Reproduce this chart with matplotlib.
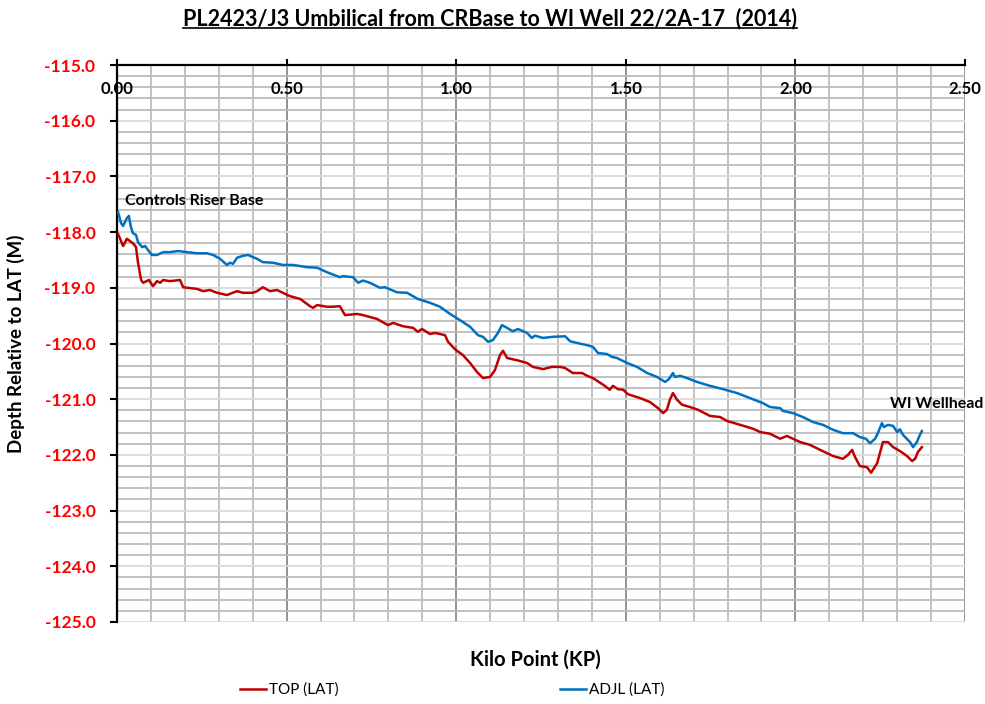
""" PL2423/J3 umbilical depth profile """

import matplotlib
matplotlib.use('Agg')
import matplotlib.pyplot as plt
import matplotlib.transforms as mtransforms
from matplotlib.lines import Line2D
from matplotlib.ticker import MultipleLocator, FormatStrFormatter

plt.rcParams['font.family'] = ['Lato', 'DejaVu Sans']

TITLE = 'PL2423/J3 Umbilical from CRBase to WI Well 22/2A-17  (2014)'

top_kp = [0.003, 0.018, 0.029, 0.038, 0.047, 0.056, 0.062, 0.071, 0.077, 0.094,
          0.106, 0.118, 0.127, 0.136, 0.156, 0.186, 0.195, 0.236, 0.254, 0.274,
          0.295, 0.324, 0.354, 0.371, 0.401, 0.413, 0.430, 0.451, 0.472, 0.489,
          0.510, 0.540, 0.569, 0.578, 0.590, 0.619, 0.637, 0.657, 0.672, 0.708,
          0.725, 0.767, 0.799, 0.814, 0.843, 0.873, 0.887, 0.899, 0.923, 0.937,
          0.952, 0.967, 0.976, 0.996, 1.020, 1.041, 1.061, 1.079, 1.100, 1.114,
          1.129, 1.138, 1.150, 1.179, 1.209, 1.226, 1.256, 1.282, 1.306, 1.321,
          1.344, 1.371, 1.386, 1.403, 1.433, 1.453, 1.462, 1.477, 1.492, 1.506,
          1.542, 1.571, 1.595, 1.610, 1.621, 1.630, 1.639, 1.651, 1.666, 1.689,
          1.713, 1.748, 1.778, 1.798, 1.837, 1.875, 1.896, 1.925, 1.955, 1.975,
          2.014, 2.043, 2.073, 2.111, 2.140, 2.155, 2.167, 2.176, 2.190, 2.211,
          2.223, 2.241, 2.258, 2.273, 2.288, 2.308, 2.329, 2.344, 2.353, 2.361,
          2.373]
top_depth = [-118.03, -118.25, -118.12, -118.16, -118.20, -118.27, -118.55, -118.86, -118.91, -118.86,
             -118.97, -118.88, -118.91, -118.86, -118.88, -118.86, -118.99, -119.02, -119.06, -119.04,
             -119.09, -119.13, -119.06, -119.09, -119.09, -119.06, -118.99, -119.06, -119.04, -119.09,
             -119.15, -119.20, -119.33, -119.36, -119.31, -119.34, -119.34, -119.33, -119.49, -119.47,
             -119.49, -119.56, -119.67, -119.63, -119.69, -119.72, -119.79, -119.74, -119.83, -119.81,
             -119.83, -119.85, -119.97, -120.10, -120.21, -120.35, -120.51, -120.62, -120.60, -120.48,
             -120.21, -120.13, -120.26, -120.30, -120.35, -120.42, -120.46, -120.42, -120.42, -120.44,
             -120.53, -120.53, -120.58, -120.62, -120.74, -120.83, -120.76, -120.82, -120.83, -120.91,
             -120.98, -121.05, -121.16, -121.25, -121.19, -121.01, -120.89, -121.01, -121.10, -121.14,
             -121.19, -121.30, -121.32, -121.39, -121.46, -121.53, -121.59, -121.62, -121.71, -121.66,
             -121.77, -121.82, -121.91, -122.02, -122.07, -122.00, -121.91, -122.04, -122.20, -122.22,
             -122.32, -122.15, -121.77, -121.77, -121.86, -121.93, -122.02, -122.11, -122.07, -121.95,
             -121.86]

adjl_kp = [0.003, 0.012, 0.018, 0.029, 0.035, 0.041, 0.047, 0.056, 0.062, 0.074,
           0.083, 0.091, 0.103, 0.118, 0.136, 0.156, 0.180, 0.206, 0.236, 0.265,
           0.283, 0.304, 0.324, 0.333, 0.342, 0.354, 0.369, 0.386, 0.401, 0.413,
           0.430, 0.460, 0.489, 0.519, 0.540, 0.560, 0.590, 0.619, 0.657, 0.666,
           0.696, 0.711, 0.725, 0.746, 0.775, 0.790, 0.825, 0.855, 0.887, 0.923,
           0.952, 0.982, 1.011, 1.041, 1.064, 1.079, 1.094, 1.108, 1.123, 1.135,
           1.150, 1.167, 1.182, 1.209, 1.223, 1.232, 1.256, 1.285, 1.321, 1.336,
           1.356, 1.386, 1.403, 1.418, 1.445, 1.459, 1.474, 1.504, 1.533, 1.563,
           1.592, 1.616, 1.627, 1.639, 1.645, 1.660, 1.680, 1.710, 1.748, 1.787,
           1.828, 1.866, 1.904, 1.925, 1.955, 1.963, 1.993, 2.022, 2.052, 2.081,
           2.111, 2.140, 2.170, 2.190, 2.208, 2.220, 2.235, 2.243, 2.255, 2.261,
           2.273, 2.288, 2.300, 2.308, 2.317, 2.338, 2.347, 2.358, 2.367, 2.373]
adjl_depth = [-117.64, -117.84, -117.89, -117.75, -117.71, -117.91, -118.02, -118.05, -118.18, -118.27,
              -118.25, -118.32, -118.41, -118.41, -118.36, -118.36, -118.34, -118.36, -118.38, -118.38,
              -118.41, -118.48, -118.59, -118.55, -118.57, -118.46, -118.43, -118.41, -118.45, -118.48,
              -118.54, -118.55, -118.59, -118.59, -118.61, -118.63, -118.64, -118.72, -118.81, -118.79,
              -118.81, -118.91, -118.87, -118.91, -119.00, -118.99, -119.08, -119.09, -119.20, -119.27,
              -119.34, -119.47, -119.58, -119.70, -119.85, -119.88, -119.97, -119.94, -119.81, -119.67,
              -119.72, -119.78, -119.74, -119.81, -119.90, -119.86, -119.90, -119.88, -119.87, -119.96,
              -119.99, -120.03, -120.06, -120.17, -120.19, -120.24, -120.26, -120.35, -120.42, -120.53,
              -120.60, -120.69, -120.64, -120.53, -120.60, -120.58, -120.62, -120.69, -120.76, -120.82,
              -120.89, -120.98, -121.07, -121.14, -121.16, -121.21, -121.25, -121.32, -121.41, -121.46,
              -121.55, -121.61, -121.61, -121.68, -121.71, -121.79, -121.71, -121.61, -121.43, -121.50,
              -121.46, -121.48, -121.59, -121.54, -121.64, -121.77, -121.86, -121.77, -121.64, -121.57]

labels = [('Controls Riser Base', 0.024, -117.44), ('WI Wellhead', 2.279, -121.09)]


def draw_chart():
    fig = plt.figure(figsize=(9.85, 7.04), dpi=100)
    ax = fig.add_axes([117 / 985, 1 - 622 / 704, 848 / 985, 557 / 704])

    ax.plot(top_kp, top_depth, color='#C00000', lw=1.8, label='TOP (LAT)', zorder=3)
    ax.plot(adjl_kp, adjl_depth, color='#0070C0', lw=1.8, label='ADJL (LAT)', zorder=3)

    ax.set_xlim(0, 2.5)
    ax.set_ylim(-125, -115)

    ax.xaxis.set_major_locator(MultipleLocator(0.5))
    ax.xaxis.set_minor_locator(MultipleLocator(0.1))
    ax.yaxis.set_major_locator(MultipleLocator(1.0))
    ax.yaxis.set_minor_locator(MultipleLocator(0.2))
    ax.yaxis.set_major_formatter(FormatStrFormatter('%.1f'))

    ax.grid(which='minor', axis='both', color='#BCBCBC', lw=1.3, zorder=0)
    ax.grid(which='major', axis='x', color='#808080', lw=1.2, zorder=0)
    ax.grid(which='major', axis='y', color='#DADADA', lw=1.3, zorder=0)
    ax.set_axisbelow(True)

    for side in ['right', 'bottom']:
        ax.spines[side].set_visible(False)
    for side in ['left', 'top']:
        ax.spines[side].set_linewidth(1.6)
        ax.spines[side].set_color('black')

    ax.xaxis.tick_top()
    ax.tick_params(axis='x', which='major', direction='out', length=4, width=1.5,
                   labeltop=False)
    ax.tick_params(axis='y', which='major', direction='out', length=5, width=1.5,
                   pad=10.5, labelsize=12.5, labelcolor='#FF0000')
    ax.tick_params(which='minor', length=0)
    for lbl in ax.get_yticklabels():
        lbl.set_fontweight('bold')

    # x tick labels sit just inside the top edge, drawn above the grid
    trans = mtransforms.blended_transform_factory(ax.transData, ax.transAxes)
    for kp in ax.get_xticks():
        if 0 <= kp <= 2.5:
            ax.text(kp, 0.957, f'{kp:.2f}', transform=trans, ha='center', va='center',
                    fontsize=12, fontweight='bold', zorder=5, clip_on=False)

    ax.set_xlabel('Kilo Point (KP)', fontsize=14.5, fontweight='bold')
    ax.xaxis.set_label_position('bottom')
    ax.xaxis.set_label_coords(0.493, -0.05)
    ax.set_ylabel('Depth Relative to LAT (M)', fontsize=13.5, fontweight='bold', labelpad=14)

    for text, x, y in labels:
        ax.text(x, y, text, fontsize=11.5, fontweight='bold', ha='left', va='center',
                clip_on=False)

    title = fig.text(0.497, 0.974, TITLE, fontsize=15.5, fontweight='bold',
                     ha='center', va='center')

    fig.legend(loc='center', bbox_to_anchor=(0.459, 0.02), ncol=2, frameon=False,
               fontsize=11, handlelength=1.7, columnspacing=14.5, handletextpad=0.2)

    # underline the title
    fig.canvas.draw()
    bb = title.get_window_extent().transformed(fig.transFigure.inverted())
    fig.add_artist(Line2D([bb.x0, bb.x1], [bb.y0 + 0.002, bb.y0 + 0.002],
                          color='black', lw=1.2, transform=fig.transFigure))

    fig.savefig('out.png', dpi=100)


def main():
    draw_chart()


if __name__ == '__main__':
    main()
